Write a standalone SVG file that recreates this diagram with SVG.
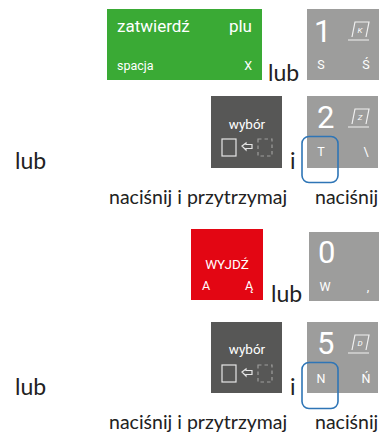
<svg xmlns="http://www.w3.org/2000/svg" width="381" height="432" viewBox="0 0 381 432">
<style>
.l{font-family:Lato,"Liberation Sans",sans-serif;font-size:19.500px;fill:#222}
.b{font-size:23px}
.k{font-family:Roboto,"Liberation Sans",sans-serif;fill:#fff}
.s{font-size:12.500px}
.t{font-size:13.500px}
.n{font-size:31px;fill:#fff}
.grey{fill:#9d9d9c}
.dark{fill:#575756}
.o{fill:none;stroke:#fff;stroke-opacity:.85;stroke-width:1.200}
.d{fill:none;stroke:#9d9d9c;stroke-width:1.200;stroke-dasharray:3.500 3}
.blue{fill:none;stroke:#2e75b6;stroke-width:1.600}
</style>
<rect width="381" height="432" fill="#fff"/>
<g id="node-zatwierdz">
<rect x="107" y="9" width="155" height="71" fill="#3aaa35"/>
<text class="k" x="117" y="32" font-size="17">zatwierdź</text>
<text class="k" x="252" y="32" font-size="17" text-anchor="end">plu</text>
<text class="k s" x="117" y="70">spacja</text>
<text class="k s" x="252" y="70" text-anchor="end">X</text>
</g>
<g id="node-key1">
<rect class="grey" x="307" y="9" width="72" height="71"/>
<text class="k n" x="314" y="42">1</text>
<path class="o" d="M352 37l3-15h14l-3 15M348 40h21"/>
<text class="k" x="360" y="33" font-size="8" font-style="italic" text-anchor="middle">K</text>
<text class="k s" x="321" y="69" text-anchor="middle">S</text>
<text class="k s" x="366" y="69" text-anchor="middle">Ś</text>
</g>
<g id="node-wybor1">
<rect class="dark" x="211" y="96" width="71" height="72"/>
<text class="k t" x="247" y="129" text-anchor="middle">wybór</text>
<rect class="o" x="222" y="139" width="14" height="17"/>
<path class="o" d="M242 146l4-3v1.500h6v4h-6v1.500z"/>
<rect class="d" x="258" y="139" width="14" height="17"/>
</g>
<g id="node-key2">
<rect class="grey" x="307" y="96" width="71" height="72"/>
<text class="k n" x="317" y="128">2</text>
<path class="o" d="M352 124l3-15h14l-3 15M348 127h21"/>
<text class="k" x="360" y="120" font-size="8" font-style="italic" text-anchor="middle">Z</text>
<text class="k s" x="321" y="156" text-anchor="middle">T</text>
<text class="k s" x="366" y="156" text-anchor="middle">\</text>
</g>
<g id="node-wyjdz">
<rect x="191" y="229" width="72" height="71" fill="#e30613"/>
<text class="k t" x="227" y="269" text-anchor="middle">WYJDŹ</text>
<text class="k s" x="206" y="290" text-anchor="middle">A</text>
<text class="k s" x="249" y="290" text-anchor="middle">Ą</text>
</g>
<g id="node-key0">
<rect class="grey" x="309" y="232" width="70" height="69"/>
<text class="k n" x="318" y="263">0</text>
<text class="k s" x="325" y="291" text-anchor="middle">W</text>
<text class="k s" x="368" y="291" text-anchor="middle">,</text>
</g>
<g id="node-wybor2">
<rect class="dark" x="211" y="322" width="71" height="71"/>
<text class="k t" x="247" y="354" text-anchor="middle">wybór</text>
<rect class="o" x="222" y="365" width="14" height="17"/>
<path class="o" d="M242 372l4-3v1.500h6v4h-6v1.500z"/>
<rect class="d" x="258" y="365" width="14" height="17"/>
</g>
<g id="node-key5">
<rect class="grey" x="307" y="322" width="71" height="71"/>
<text class="k n" x="317" y="354">5</text>
<path class="o" d="M352 350l3-15h14l-3 15M348 353h21"/>
<text class="k" x="360" y="346" font-size="8" font-style="italic" text-anchor="middle">D</text>
<text class="k s" x="321" y="383" text-anchor="middle">N</text>
<text class="k s" x="366" y="383" text-anchor="middle">Ń</text>
</g>
<g id="connectors">
<rect class="blue" x="302" y="136.500" width="36" height="46" rx="7"/>
<rect class="blue" x="302" y="362.500" width="36" height="46" rx="7"/>
</g>
<g id="labels">
<text class="l b" x="268" y="81">lub</text>
<text class="l b" x="15" y="169">lub</text>
<text class="l b" x="290" y="169">i</text>
<text class="l" x="109" y="204">naciśnij i przytrzymaj</text>
<text class="l" x="315" y="204">naciśnij</text>
<text class="l b" x="271" y="302">lub</text>
<text class="l b" x="15" y="395">lub</text>
<text class="l b" x="290" y="395">i</text>
<text class="l" x="109" y="429">naciśnij i przytrzymaj</text>
<text class="l" x="315" y="429">naciśnij</text>
</g>
</svg>
